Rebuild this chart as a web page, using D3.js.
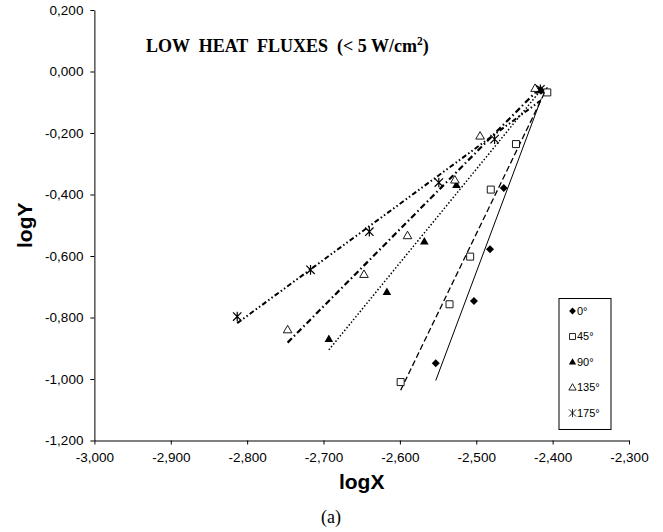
<!DOCTYPE html>
<html>
<head>
<meta charset="utf-8">
<script src="https://cdn.jsdelivr.net/npm/d3@7"></script>
<style>
  body { margin: 0; background: #fff; }
  #chart { width: 663px; height: 532px; }
</style>
</head>
<body>
<div id="chart"></div>
<script>
// values (logX, logY per inclination angle)
const angles = ["0°", "45°", "90°", "135°", "175°"];

const x0 = [-2.553, -2.503, -2.482, -2.464, -2.415];
const y0 = [-0.949, -0.746, -0.578, -0.379, -0.062];

const x45 = [-2.599, -2.535, -2.508, -2.481, -2.448, -2.407];
const y45 = [-1.010, -0.757, -0.602, -0.384, -0.236, -0.068];

const x90 = [-2.693, -2.617, -2.568, -2.526, -2.418];
const y90 = [-0.870, -0.717, -0.553, -0.369, -0.061];

const x135 = [-2.747, -2.647, -2.590, -2.528, -2.495, -2.423];
const y135 = [-0.840, -0.660, -0.534, -0.353, -0.210, -0.055];

const x175 = [-2.813, -2.717, -2.640, -2.549, -2.476, -2.416];
const y175 = [-0.797, -0.645, -0.521, -0.361, -0.220, -0.058];

const xTicks = [-3.0, -2.9, -2.8, -2.7, -2.6, -2.5, -2.4, -2.3];
const yTicks = [0.2, 0.0, -0.2, -0.4, -0.6, -0.8, -1.0, -1.2];

const width = document.querySelector("#chart").clientWidth;
const height = document.querySelector("#chart").clientHeight;
const margin = { top: 10, left: 94.4, right: 34, bottom: 91.5 };

const svg = d3.select("#chart")
    .append("svg")
    .attr("width", width)
    .attr("height", height);

const x = d3.scaleLinear([-3, -2.3], [margin.left, width - margin.right]);
const y = d3.scaleLinear([-1.2, 0.2], [height - margin.bottom, margin.top]);

// comma decimals and plain hyphen minus, like the original
const locale = d3.formatLocale({ decimal: ",", thousands: ".", grouping: [3], currency: ["", ""], minus: "-" });
const fmt = locale.format(".3f");

// marker shapes
const r = 4;
const shapes = {
    diamond: { draw(p) { p.moveTo(0, -r); p.lineTo(r, 0); p.lineTo(0, r); p.lineTo(-r, 0); p.closePath(); } },
    square: { draw(p) { p.rect(-3.5, -3.5, 7, 7); } },
    triangle: { draw(p) { p.moveTo(0, -4.5); p.lineTo(4.3, 3); p.lineTo(-4.3, 3); p.closePath(); } },
    star: { draw(p) {
        p.moveTo(-4.2, -4.2); p.lineTo(4.2, 4.2);
        p.moveTo(-4.2, 4.2); p.lineTo(4.2, -4.2);
        p.moveTo(0, -4.8); p.lineTo(0, 4.8);
    } }
};

const series = [
    { name: angles[0], xs: x0, ys: y0, shape: "diamond", fill: "black", dash: null, lw: 1 },
    { name: angles[1], xs: x45, ys: y45, shape: "square", fill: "white", dash: "6,3", lw: 1.3 },
    { name: angles[2], xs: x90, ys: y90, shape: "triangle", fill: "black", dash: "1.5,2", lw: 1.5 },
    { name: angles[3], xs: x135, ys: y135, shape: "triangle", fill: "white", dash: "6,3,1.5,3", lw: 2.2 },
    { name: angles[4], xs: x175, ys: y175, shape: "star", fill: "none", dash: "5,2.5,1.5,2.5,1.5,2.5", lw: 2 }
];

// least squares trend line over each series' x range
function fit(xs, ys) {
    const mx = d3.mean(xs), my = d3.mean(ys);
    const b = d3.sum(xs, (v, i) => (v - mx) * (ys[i] - my)) / d3.sum(xs, v => (v - mx) ** 2);
    const a = my - b * mx;
    const [lo, hi] = d3.extent(xs);
    return [[lo, a + b * lo], [hi, a + b * hi]];
}

// axes
svg.append("g")
    .attr("transform", `translate(0,${height - margin.bottom})`)
    .call(d3.axisBottom(x).tickValues(xTicks).tickFormat(fmt).tickSize(4).tickSizeOuter(0).tickPadding(8));

svg.append("g")
    .attr("transform", `translate(${margin.left},0)`)
    .call(d3.axisLeft(y).tickValues(yTicks).tickFormat(fmt).tickSize(4).tickSizeOuter(0).tickPadding(7));

svg.selectAll(".tick text")
    .attr("font-family", "Liberation Sans, Arial, sans-serif")
    .attr("font-size", "13.5px")
    .attr("fill", "black");
svg.selectAll(".domain, .tick line").attr("stroke", "black");

// trend lines
const line = d3.line().x(d => x(d[0])).y(d => y(d[1]));
svg.append("g")
    .attr("fill", "none")
    .selectAll("path")
    .data(series)
    .join("path")
    .attr("d", d => line(fit(d.xs, d.ys)))
    .attr("stroke", "black")
    .attr("stroke-width", d => d.lw)
    .attr("stroke-dasharray", d => d.dash);

// markers
const sym = d3.symbol();
series.forEach(s => {
    svg.append("g")
        .selectAll("path")
        .data(s.xs.map((v, i) => [v, s.ys[i]]))
        .join("path")
        .attr("transform", d => `translate(${x(d[0])},${y(d[1])})`)
        .attr("d", sym.type(shapes[s.shape])())
        .attr("fill", s.fill)
        .attr("stroke", s.shape === "diamond" || s.fill === "black" ? "none" : "black")
        .attr("stroke-width", s.shape === "star" ? 1.2 : 0.9);
});

// legend
const legend = svg.append("g");
legend.append("rect")
    .attr("x", 559).attr("y", 298.5)
    .attr("width", 52).attr("height", 131)
    .attr("fill", "white").attr("stroke", "black").attr("stroke-width", 1);

const rows = legend.selectAll("g.row")
    .data(series)
    .join("g")
    .attr("class", "row")
    .attr("transform", (d, i) => `translate(572.5,${311 + i * 25.5})`);

rows.append("path")
    .attr("d", d => sym.type(shapes[d.shape])())
    .attr("transform", "scale(0.85)")
    .attr("fill", d => d.fill)
    .attr("stroke", d => d.shape === "diamond" || d.fill === "black" ? "none" : "black")
    .attr("stroke-width", 1);

rows.append("text")
    .attr("x", 4.5)
    .attr("dy", "0.35em")
    .attr("font-family", "Liberation Sans, Arial, sans-serif")
    .attr("font-size", "11px")
    .text(d => d.name);

// titles
const title = svg.append("text")
    .attr("x", 146)
    .attr("y", 51.5)
    .attr("font-family", "Liberation Serif, Times New Roman, serif")
    .attr("font-weight", "bold")
    .attr("font-size", "18px")
    .style("white-space", "pre")
    .text("LOW  HEAT  FLUXES  (< 5 W/cm");
title.append("tspan")
    .attr("dy", -7)
    .attr("font-size", "11.5px")
    .text("2");
title.append("tspan")
    .attr("dy", 7)
    .text(")");

svg.append("text")
    .attr("x", (margin.left + width - margin.right) / 2)
    .attr("y", 489)
    .attr("text-anchor", "middle")
    .attr("font-family", "Liberation Sans, Arial, sans-serif")
    .attr("font-weight", "bold")
    .attr("font-size", "21px")
    .text("logX");

svg.append("text")
    .attr("transform", `translate(32,${(margin.top + height - margin.bottom) / 2}) rotate(-90)`)
    .attr("text-anchor", "middle")
    .attr("font-family", "Liberation Sans, Arial, sans-serif")
    .attr("font-weight", "bold")
    .attr("font-size", "21px")
    .text("logY");

svg.append("text")
    .attr("x", 331)
    .attr("y", 523)
    .attr("text-anchor", "middle")
    .attr("font-family", "Liberation Serif, Times New Roman, serif")
    .attr("font-size", "18px")
    .text("(a)");
</script>
</body>
</html>
